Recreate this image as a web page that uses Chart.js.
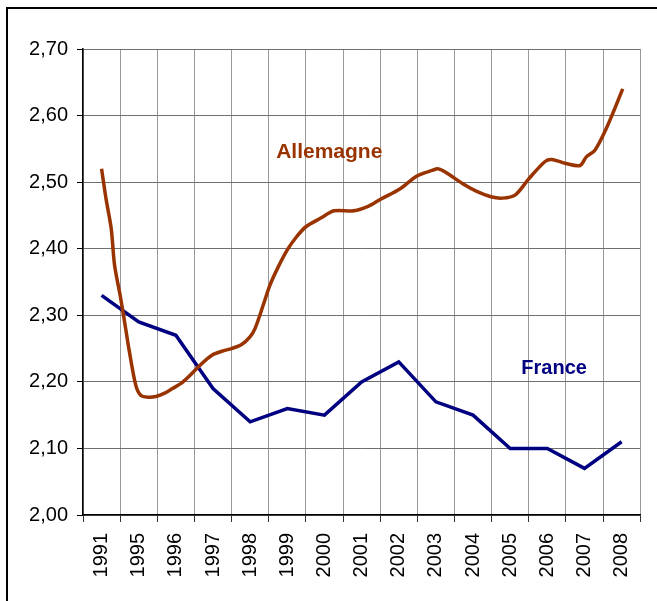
<!DOCTYPE html>
<html lang="fr">
<head>
    <meta charset="UTF-8">
    <title>Allemagne / France</title>
    <script src="https://cdn.jsdelivr.net/npm/chart.js"></script>
    <style>
        html, body { margin: 0; padding: 0; background: #fff; overflow: hidden; }
        #wrap { position: relative; width: 657px; height: 601px; }
        #frame { position: absolute; left: 6px; top: 7px; width: 800px; height: 800px;
                 border-left: 2px solid #000; border-top: 2px solid #000; pointer-events: none; }
    </style>
</head>
<body>
    <div id="wrap">
        <canvas id="myChart" width="657" height="601"></canvas>
        <div id="frame"></div>
    </div>

    <script>
        // Category labels on the x axis
        const years = ['1991', '1995', '1996', '1997', '1998', '1999', '2000', '2001',
                       '2002', '2003', '2004', '2005', '2006', '2007', '2008'];

        // France: one value per category
        const franceValues = [2.33, 2.29, 2.27, 2.19, 2.14, 2.16, 2.15, 2.20,
                              2.23, 2.17, 2.15, 2.10, 2.10, 2.07, 2.11];

        // Allemagne: denser series, position given in category units (0 = 1991)
        const allemagneX = [0.00, 0.12, 0.26, 0.35, 0.50, 0.62, 0.75, 0.92, 1.05, 1.25,
                            1.46, 1.70, 1.91, 2.15, 2.35, 2.65, 2.97, 3.24, 3.50, 3.77,
                            4.00, 4.13, 4.35, 4.53, 4.75, 5.02, 5.25, 5.50, 5.90, 6.26,
                            6.79, 7.19, 7.50, 8.04, 8.48, 8.92, 9.05, 9.23, 9.77, 10.10,
                            10.48, 10.79, 11.14, 11.50, 11.94, 12.12, 12.50, 12.88, 13.05, 13.28,
                            13.59, 14.03];
        const allemagneY = [2.520, 2.475, 2.430, 2.375, 2.330, 2.290, 2.245, 2.195, 2.180, 2.177,
                            2.178, 2.183, 2.190, 2.198, 2.208, 2.225, 2.240, 2.246, 2.250, 2.256,
                            2.268, 2.280, 2.315, 2.345, 2.372, 2.400, 2.418, 2.433, 2.446, 2.457,
                            2.457, 2.464, 2.474, 2.490, 2.509, 2.518, 2.520, 2.516, 2.496, 2.486,
                            2.478, 2.476, 2.481, 2.505, 2.531, 2.534, 2.528, 2.525, 2.538, 2.548,
                            2.581, 2.640];

        // Series name labels placed inside the plot (x in category units, y in value units)
        const seriesLabels = [
            { text: 'Allemagne', x: 4.70, y: 2.537, color: '#993300', size: 21 },
            { text: 'France', x: 11.30, y: 2.212, color: '#000080', size: 20 }
        ];

        const fontFamily = '"Liberation Sans", Arial, sans-serif';

        // Draws the series names using the chart's scales
        const seriesLabelPlugin = {
            id: 'seriesLabels',
            afterDatasetsDraw(chart) {
                const c = chart.ctx;
                const xs = chart.scales.xv;
                const ys = chart.scales.y;
                c.save();
                c.textAlign = 'left';
                c.textBaseline = 'alphabetic';
                seriesLabels.forEach(l => {
                    c.font = 'bold ' + l.size + 'px ' + fontFamily;
                    c.fillStyle = l.color;
                    c.fillText(l.text, xs.getPixelForValue(l.x), ys.getPixelForValue(l.y));
                });
                c.restore();
            }
        };

        const ctx = document.getElementById('myChart').getContext('2d');
        const chart = new Chart(ctx, {
            type: 'line',
            data: {
                labels: years,
                datasets: [{
                    label: 'Allemagne',
                    data: allemagneX.map((x, i) => ({ x: x, y: allemagneY[i] })),
                    xAxisID: 'xv',
                    borderColor: '#993300',
                    borderWidth: 3.5,
                    pointRadius: 0,
                    tension: 0.3,
                    fill: false
                }, {
                    label: 'France',
                    data: franceValues.map((v, i) => ({ x: i, y: v })),
                    xAxisID: 'xv',
                    borderColor: '#000080',
                    borderWidth: 3.5,
                    pointRadius: 0,
                    tension: 0,
                    fill: false
                }]
            },
            options: {
                responsive: false,
                animation: false,
                layout: { padding: { left: 0, top: 49, right: 11, bottom: 0 } },
                plugins: {
                    legend: { display: false },
                    tooltip: { enabled: false }
                },
                scales: {
                    x: {
                        type: 'category',
                        offset: true,
                        grid: { offset: true, color: '#999', tickLength: 7, tickColor: '#333' },
                        border: { color: '#000', width: 1.5 },
                        ticks: {
                            maxRotation: 90,
                            minRotation: 90,
                            padding: 11,
                            color: '#000',
                            font: { family: fontFamily, size: 20 }
                        },
                        afterFit(scale) { scale.height = 86; }
                    },
                    xv: {
                        type: 'linear',
                        display: false,
                        min: -0.5,
                        max: 14.5
                    },
                    y: {
                        min: 2.0,
                        max: 2.7,
                        grid: { color: '#6f6f6f', tickLength: 6, tickColor: '#000' },
                        border: { color: '#000', width: 1.5 },
                        ticks: {
                            stepSize: 0.1,
                            padding: 9,
                            color: '#000',
                            font: { family: fontFamily, size: 20 },
                            callback: v => v.toFixed(2).replace('.', ',')
                        },
                        afterFit(scale) { scale.width = 83; }
                    }
                }
            },
            plugins: [seriesLabelPlugin]
        });
    </script>
</body>
</html>
